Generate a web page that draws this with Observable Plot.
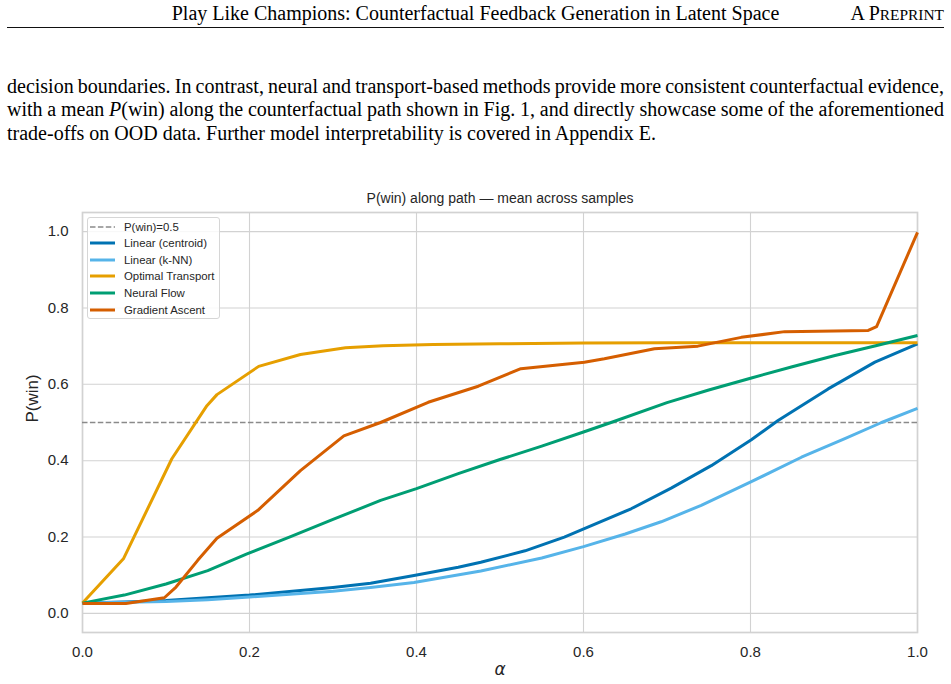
<!DOCTYPE html>
<html>
<head>
<meta charset="utf-8">
<script src="https://cdn.jsdelivr.net/npm/d3@7"></script>
<script src="https://cdn.jsdelivr.net/npm/@observablehq/plot@0.6"></script>
<style>
  html, body { margin: 0; padding: 0; background: #fff; }
  #page { position: relative; width: 951px; height: 684px; overflow: hidden; background: #fff; }
  .serif { font-family: "Liberation Serif", "Times New Roman", serif; color: #000; font-size: 20px; line-height: 23.5px; position: absolute; white-space: nowrap; }
  #runhead { left: 7px; width: 937px; top: 2px; text-align: center; }
  #preprint { right: 7px; top: 2px; }
  #preprint .sc { font-size: 15.4px; }
  #rule { position: absolute; left: 7px; width: 937px; top: 27px; height: 1px; background: #111; }
  .para { left: 7px; }
  #chart { position: absolute; left: 0; top: 185px; }
  #legend { position: absolute; left: 86.7px; top: 217.3px; width: 131.3px; height: 100px;
            border: 1px solid #d6d6d6; border-radius: 3px; background: rgba(255,255,255,0.85);
            font-family: "Liberation Sans", Arial, sans-serif; font-size: 11.4px; color: #262626; }
  .row { height: 16.6px; display: flex; align-items: center; }
  .row svg { margin-left: 2.3px; margin-right: 9px; flex: none; }
</style>
</head>
<body>
<div id="page">
  <div id="runhead" class="serif">Play Like Champions: Counterfactual Feedback Generation in Latent Space</div>
  <div id="preprint" class="serif">A P<span class="sc">REPRINT</span></div>
  <div id="rule"></div>

  <div class="serif para just" style="top:74.5px"><span>decision boundaries. In contrast, neural and transport-based methods provide more consistent counterfactual evidence,</span></div>
  <div class="serif para just" style="top:98px"><span>with a mean <i>P</i>(win) along the counterfactual path shown in Fig. 1, and directly showcase some of the aforementioned</span></div>
  <div class="serif para" style="top:121.5px"><span>trade-offs on OOD data. Further model interpretability is covered in Appendix E.</span></div>

  <div id="chart"></div>
  <div id="legend"></div>
</div>
<script>
// Mean P(win) along the counterfactual path, per method
const seriesNames = ["Linear (centroid)", "Linear (k-NN)", "Optimal Transport", "Neural Flow", "Gradient Ascent"];
const seriesColors = ["#0072B2", "#56B4E9", "#E69F00", "#009E73", "#D55E00"];

const alphaCentroid = [0, 0.05, 0.1, 0.15, 0.2, 0.3, 0.345, 0.397, 0.45, 0.477, 0.53, 0.577, 0.601, 0.657, 0.705, 0.753, 0.801, 0.833, 0.893, 0.949, 1.0];
const pCentroid     = [0.027, 0.030, 0.034, 0.041, 0.048, 0.068, 0.079, 0.0995, 0.121, 0.134, 0.164, 0.2, 0.222, 0.274, 0.328, 0.387, 0.455, 0.505, 0.588, 0.658, 0.706];

const alphaKnn = [0, 0.05, 0.1, 0.15, 0.2, 0.3, 0.345, 0.397, 0.477, 0.55, 0.6, 0.65, 0.693, 0.741, 0.801, 0.861, 0.913, 0.957, 1.0];
const pKnn     = [0.027, 0.029, 0.031, 0.036, 0.043, 0.058, 0.068, 0.081, 0.111, 0.145, 0.175, 0.208, 0.24, 0.283, 0.345, 0.409, 0.458, 0.50, 0.537];

const alphaOT = [0, 0.049, 0.107, 0.149, 0.161, 0.211, 0.261, 0.315, 0.36, 0.42, 0.5, 0.6, 0.7, 0.8, 0.9, 1.0];
const pOT     = [0.027, 0.143, 0.405, 0.544, 0.573, 0.647, 0.678, 0.696, 0.701, 0.704, 0.706, 0.708, 0.709, 0.709, 0.709, 0.709];

const alphaFlow = [0, 0.05, 0.1, 0.15, 0.197, 0.25, 0.3, 0.357, 0.4, 0.45, 0.5, 0.55, 0.6, 0.633, 0.7, 0.75, 0.8, 0.85, 0.9, 0.95, 1.0];
const pFlow     = [0.027, 0.048, 0.077, 0.112, 0.156, 0.202, 0.246, 0.296, 0.327, 0.366, 0.403, 0.438, 0.475, 0.50, 0.552, 0.585, 0.616, 0.646, 0.675, 0.701, 0.728];

const alphaGA = [0, 0.052, 0.098, 0.112, 0.138, 0.161, 0.21, 0.261, 0.313, 0.357, 0.414, 0.474, 0.525, 0.601, 0.625, 0.685, 0.737, 0.789, 0.841, 0.941, 0.951, 1.0];
const pGA     = [0.026, 0.026, 0.041, 0.069, 0.139, 0.197, 0.27, 0.374, 0.465, 0.50, 0.553, 0.595, 0.641, 0.658, 0.667, 0.693, 0.70, 0.723, 0.738, 0.741, 0.751, 0.998];

const threshold = 0.5;
const xTicks = [0, 0.2, 0.4, 0.6, 0.8, 1.0];
const yTicks = [0, 0.2, 0.4, 0.6, 0.8, 1.0];

const chartTitle = "P(win) along path \u2014 mean across samples";
const yLabel = "P(win)";
const xLabel = "\u03b1";

// long-format table for the line mark
const seriesData = [
  [alphaCentroid, pCentroid],
  [alphaKnn, pKnn],
  [alphaOT, pOT],
  [alphaFlow, pFlow],
  [alphaGA, pGA]
];
const rows = [];
seriesData.forEach(([xs, ys], k) => {
  xs.forEach((a, i) => rows.push({series: seriesNames[k], alpha: a, p: ys[i]}));
});

const gridColor = "#d2d2d2";
const chart = Plot.plot({
  width: 951,
  height: 500,
  marginLeft: 82,
  marginRight: 34,
  marginTop: 27,
  marginBottom: 53,
  style: {fontFamily: "'Liberation Sans', Arial, sans-serif", fontSize: "15px", color: "#262626", background: "transparent"},
  x: {domain: [0, 1]},
  y: {domain: [-0.05, 1.05]},
  color: {domain: seriesNames, range: seriesColors},
  marks: [
    Plot.gridY(yTicks, {stroke: gridColor, strokeOpacity: 1, strokeWidth: 1.1}),
    Plot.gridX(xTicks.slice(1, -1), {stroke: gridColor, strokeOpacity: 1, strokeWidth: 1.1}),
    Plot.frame({stroke: gridColor, strokeWidth: 1.7}),
    Plot.axisY(yTicks, {tickSize: 0, tickPadding: 14, tickFormat: d => d.toFixed(1), label: null}),
    Plot.axisX(xTicks, {tickSize: 0, tickPadding: 14, tickFormat: d => d.toFixed(1), label: null}),
    Plot.ruleY([threshold], {stroke: "#8a8a8a", strokeWidth: 1.5, strokeDasharray: "5.5,2.4"}),
    Plot.line(rows, {x: "alpha", y: "p", z: "series", stroke: "series", strokeWidth: 3, strokeLinejoin: "round", strokeLinecap: "butt"}),
    Plot.text([chartTitle], {frameAnchor: "top", lineAnchor: "middle", dy: -14, fontSize: 14, fill: "#262626"}),
    Plot.text([yLabel], {frameAnchor: "left", lineAnchor: "middle", dx: -50, rotate: -90, fontSize: 17, fill: "#262626"}),
    Plot.text([xLabel], {frameAnchor: "bottom", lineAnchor: "middle", dy: 37, fontSize: 17, fontStyle: "italic", fontFamily: "'DejaVu Sans', sans-serif", fill: "#262626"})
  ]
});
document.getElementById("chart").appendChild(chart);

// legend box in the upper-left corner of the axes
const legendEntries = [{label: "P(win)=0.5", color: "#8a8a8a", dashed: true}]
  .concat(seriesNames.map((s, i) => ({label: s, color: seriesColors[i], dashed: false})));
const legend = d3.select("#legend");
legendEntries.forEach(e => {
  const row = legend.append("div").attr("class", "row");
  const sw = row.append("svg").attr("width", 25).attr("height", 8);
  sw.append("line").attr("x1", 0).attr("x2", 25).attr("y1", 4).attr("y2", 4)
    .attr("stroke", e.color)
    .attr("stroke-width", e.dashed ? 1.5 : 3)
    .attr("stroke-dasharray", e.dashed ? "5.5,2.4" : null);
  row.append("span").text(e.label);
});

// justify the full-width text lines
document.querySelectorAll(".just").forEach(el => {
  const span = el.querySelector("span");
  const w = span.getBoundingClientRect().width;
  const n = (span.textContent.match(/ /g) || []).length;
  el.style.wordSpacing = ((937 - w) / n) + "px";
});
</script>
</body>
</html>
